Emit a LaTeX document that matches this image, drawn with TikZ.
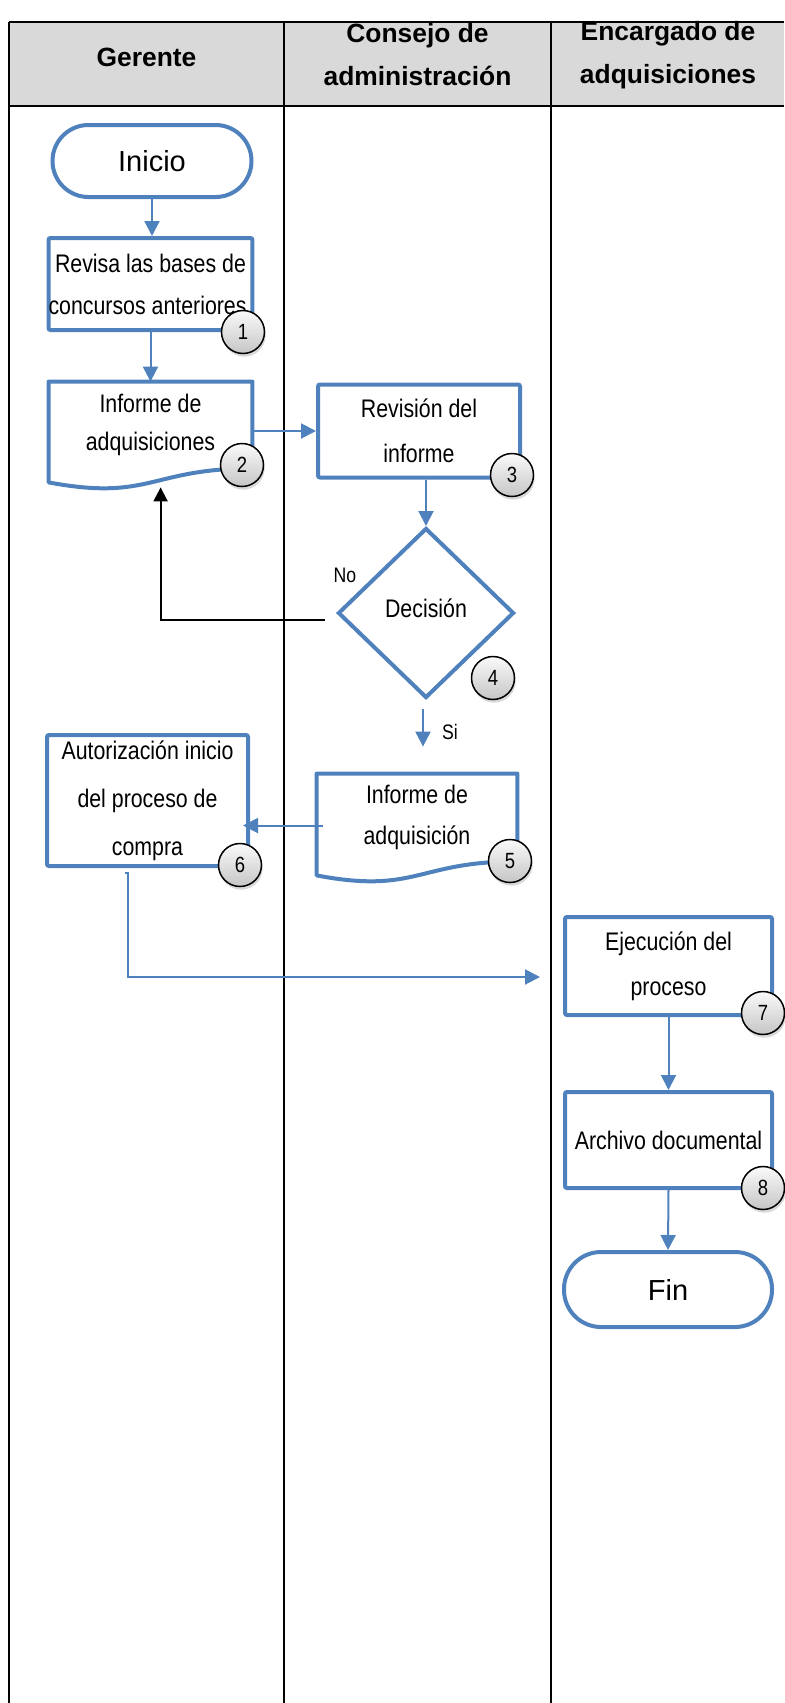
\documentclass[tikz,border=0pt]{standalone}
\usepackage{fontspec}
\setmainfont{Liberation Sans}
\newfontfamily\narrowfont[FakeStretch=0.84]{Liberation Sans}
\usetikzlibrary{arrows.meta,shapes.geometric,shadows,calc}
\definecolor{flowblue}{RGB}{79,129,189}
\definecolor{headgray}{RGB}{217,217,217}
\begin{document}
\begin{tikzpicture}[x=0.5pt,y=-0.5pt,
  tableline/.style={draw=black,line width=1pt},
  headtext/.style={align=center,inner sep=0pt,font=\bfseries\fontsize{13.2}{21.5}\selectfont},
  bodytext/.style={align=center,inner sep=0pt,font=\narrowfont\fontsize{12.7}{#1}\selectfont},
  procbox/.style={rectangle,draw=flowblue,line width=2pt,rounded corners=1pt,fill=white},
  docbox/.style={rectangle,draw=none},
  docline/.style={draw=flowblue,line width=2pt,line join=round},
  terminal/.style={rectangle,draw=flowblue,line width=2pt,fill=white,inner sep=0pt,
    font=\fontsize{14.5}{17}\selectfont},
  decision/.style={diamond,draw=flowblue,line width=2pt,fill=white,inner sep=0pt,
    font=\narrowfont\fontsize{12.7}{15}\selectfont},
  numcircle/.style={circle,draw=black,line width=0.75pt,minimum size=21.5pt,inner sep=0pt,
    top color=gray!4,bottom color=gray!45,
    drop shadow={opacity=0.3,shadow xshift=0.6pt,shadow yshift=-1.6pt},
    font=\narrowfont\fontsize{11}{13}\selectfont},
  smalltext/.style={inner sep=0pt,font=\narrowfont\fontsize{10.5}{12}\selectfont},
  conn/.style={draw=flowblue,line width=1pt,-{Triangle[length=7.5pt,width=7.5pt]}},
  backconn/.style={draw=black,line width=1pt,-{Triangle[length=7pt,width=7pt]}}]

\useasboundingbox (0,0) rectangle (784,1703);

% swimlane table
\fill[headgray] (9,22) rectangle (784,106);
\draw[tableline] (9,22) -- (784,22);
\draw[tableline] (9,106) -- (784,106);
\draw[tableline] (9,22) -- (9,1703);
\draw[tableline] (284,22) -- (284,1703);
\draw[tableline] (551,22) -- (551,1703);

\node[headtext] (hger) at (146.5,57) {Gerente};
\node[headtext] (hcon) at (417.5,55) {Consejo de\\administración};
\node[headtext] (henc) at (668,55) {Encargado de\\adquisiciones};

% flow shapes
\node[terminal,rounded corners=18pt,minimum width=99.5pt,minimum height=36pt] (inicio) at (152,161) {Inicio};
\node[procbox,bodytext=21,minimum width=101.5pt,minimum height=46pt] (b1) at (150.5,284)
  {Revisa las bases de\\concursos anteriores.};
\node[docbox,bodytext=19,minimum width=101.5pt,minimum height=43pt] (d2) at (150.5,425)
  {Informe de\\adquisiciones};
\draw[docline] (d2.north west) -- (d2.north east) -- (d2.south east)
  .. controls (d2.south) and ($(d2.south)+(0,33)$) .. ($(d2.south west)+(0,14)$) -- cycle;
\node[procbox,bodytext=22.5,minimum width=101pt,minimum height=46.5pt] (b3) at (419,431)
  {Revisión del\\informe};
\node[decision,minimum width=88pt,minimum height=85pt] (dec) at (426,613) {\raisebox{5pt}{Decisión}};
\node[docbox,bodytext=20.5,minimum width=100pt,minimum height=43.5pt] (d5) at (417,817.5)
  {Informe de\\adquisición};
\draw[docline] (d5.north west) -- (d5.north east) -- (d5.south east)
  .. controls (d5.south) and ($(d5.south)+(0,33)$) .. ($(d5.south west)+(0,14)$) -- cycle;
\node[procbox,bodytext=24,minimum width=100.5pt,minimum height=65.5pt] (b6) at (147.5,800.5)
  {Autorización inicio\\del proceso de\\compra};
\node[procbox,bodytext=22.5,minimum width=103.5pt,minimum height=49pt] (b7) at (668.5,966)
  {Ejecución del\\proceso};
\node[procbox,bodytext=22,minimum width=103.5pt,minimum height=48pt] (b8) at (668.5,1140)
  {Archivo documental};
\node[terminal,rounded corners=18.5pt,minimum width=104pt,minimum height=37.5pt] (fin) at (668,1289.5) {Fin};

% branch labels
\node[smalltext] (lno) at (345,575) {No};
\node[smalltext] (lsi) at (450,732) {Si};

% connectors
\draw[conn] (inicio.south) -- (inicio.south |- b1.north);
\draw[conn] (b1.south) -- (d2.north);
\draw[conn] (d2.east |- b3.west) -- (b3.west);
\draw[conn] (b3.south -| dec.north) -- (dec.north);
\draw[conn,shorten <=4.5pt,shorten >=13.5pt] ($(dec.south)+(-3,0)$) -- ($(dec.south |- d5.north)+(-3,0)$);
\draw[conn,shorten <=-3pt,shorten >=-3.5pt] ($(d5.west)+(0,8)$) -- ($(d5.west -| b6.east)+(0,8)$);
\coordinate (k1) at (125,873);
\coordinate (k2) at (540,977);
\draw[conn] (k1) -- ++(3,0) |- (k2);
\draw[conn] (b7.south) -- (b8.north);
\draw[conn] (b8.south) -- (fin.north);
\draw[backconn] ($(dec.west)+(-11,7)$) -| ($(d2.south west)+(112,62)$) -- ($(d2.south west)+(112,19)$);

% step numbers
\node[numcircle] (n1) at (243,332) {1};
\node[numcircle] (n2) at (242,465) {2};
\node[numcircle] (n3) at (512,475) {3};
\node[numcircle] (n4) at (493,678) {4};
\node[numcircle] (n5) at (510,861) {5};
\node[numcircle] (n6) at (240,865) {6};
\node[numcircle] (n7) at (763,1013) {7};
\node[numcircle] (n8) at (763,1188) {8};
\end{tikzpicture}
\end{document}
